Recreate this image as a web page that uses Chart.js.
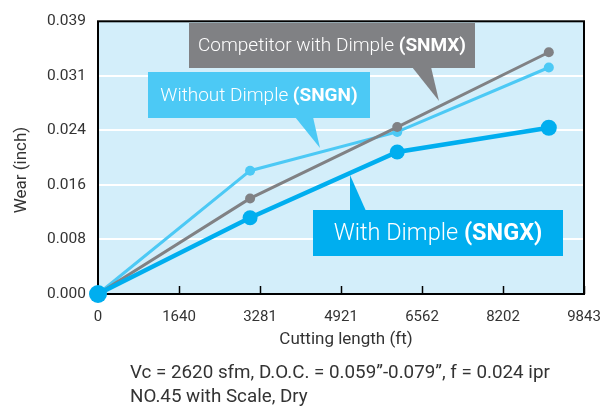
<!DOCTYPE html>
<html>
<head>
<meta charset="utf-8">
<script src="https://cdn.jsdelivr.net/npm/chart.js@4"></script>
<style>
  html, body { margin: 0; padding: 0; background: #ffffff; }
  #wrap { width: 612px; height: 409px; position: relative; }
</style>
</head>
<body>
<div id="wrap"><canvas id="c" width="612" height="409"></canvas></div>
<script>
// ---- data ----
const cuttingLengthFt = [0, 3080, 6060, 9130];
const wearSNGX = [0, 0.0110, 0.0205, 0.0240];
const wearSNMX = [0, 0.0138, 0.0241, 0.0349];
const wearSNGN = [0, 0.0178, 0.0234, 0.0327];
const xTickValues = [0, 1640.42, 3280.84, 4921.26, 6561.68, 8202.10, 9842.52];
const xTickLabels = ['0', '1640', '3281', '4921', '6562', '8202', '9843'];
const yTickValues = [0, 0.007874, 0.015748, 0.023622, 0.031496, 0.03937];
const yTickLabels = ['0.000', '0.008', '0.016', '0.024', '0.031', '0.039'];
const seriesNames = ['With Dimple (SNGX)', 'Competitor with Dimple (SNMX)', 'Without Dimple (SNGN)'];
const xTitle = 'Cutting length (ft)';
const yTitle = 'Wear (inch)';
const footLines = ['Vc = 2620 sfm, D.O.C. = 0.059\u201d-0.079\u201d, f = 0.024 ipr', 'NO.45 with Scale, Dry'];

const FONT = 'Roboto, "Liberation Sans", Arial, sans-serif';
const C_BLUE = '#00aeef', C_LIGHT = '#4cc9f5', C_GRAY = '#808184';

function pts(ys) { return cuttingLengthFt.map((x, i) => ({ x: x, y: ys[i] })); }

// callouts: box in pixels, pointer triangle, text parts
const callouts = [
  { color: C_GRAY, box: [189, 23, 286, 45], tri: [[412, 67], [431, 67], [439, 101]],
    parts: [['Competitor with Dimple ', 300], ['(SNMX)', 700]], size: 19 },
  { color: C_LIGHT, box: [148, 72, 222, 46], tri: [[295, 117], [313, 117], [320, 148]],
    parts: [['Without Dimple ', 300], ['(SNGN)', 700]], size: 19 },
  { color: C_BLUE, box: [313, 210, 250, 46], tri: [[350, 211], [366, 211], [350, 175]],
    parts: [['With Dimple ', 300], ['(SNGX)', 700]], size: 23.5 }
];

const decor = {
  id: 'decor',
  beforeDraw(chart) {
    const { ctx, chartArea: a } = chart;
    ctx.save();
    ctx.fillStyle = '#d3eefa';
    ctx.fillRect(a.left, a.top, a.right - a.left, a.bottom - a.top);
    ctx.restore();
  },
  beforeDatasetsDraw(chart) {
    const { ctx, chartArea: a } = chart;
    const xs = chart.scales.x;
    ctx.save();
    // tick marks inside bottom edge
    ctx.strokeStyle = '#000';
    ctx.lineWidth = 1.5;
    xTickValues.forEach(v => {
      const px = Math.round(xs.getPixelForValue(v)) + 0.5;
      ctx.beginPath();
      ctx.moveTo(px, a.bottom);
      ctx.lineTo(px, a.bottom - 8);
      ctx.stroke();
    });
    // frame
    ctx.lineWidth = 2;
    ctx.strokeRect(a.left, a.top, a.right - a.left, a.bottom - a.top);
    ctx.restore();
  },
  afterDatasetsDraw(chart) {
    const { ctx } = chart;
    ctx.save();
    callouts.forEach(c => {
      ctx.fillStyle = c.color;
      const [bx, by, bw, bh] = c.box;
      ctx.fillRect(bx, by, bw, bh);
      ctx.beginPath();
      ctx.moveTo(c.tri[0][0], c.tri[0][1]);
      ctx.lineTo(c.tri[1][0], c.tri[1][1]);
      ctx.lineTo(c.tri[2][0], c.tri[2][1]);
      ctx.closePath();
      ctx.fill();
      // text
      let total = 0;
      const widths = c.parts.map(p => {
        ctx.font = p[1] + ' ' + c.size + 'px ' + FONT;
        const w = ctx.measureText(p[0]).width;
        total += w;
        return w;
      });
      let x = bx + (bw - total) / 2;
      ctx.fillStyle = '#ffffff';
      ctx.textBaseline = 'middle';
      ctx.textAlign = 'left';
      c.parts.forEach((p, i) => {
        ctx.font = p[1] + ' ' + c.size + 'px ' + FONT;
        ctx.fillText(p[0], x, by + bh / 2 + 1);
        x += widths[i];
      });
    });
    ctx.restore();
  },
  afterDraw(chart) {
    const { ctx, chartArea: a } = chart;
    ctx.save();
    ctx.fillStyle = '#333333';
    ctx.textBaseline = 'middle';
    ctx.font = '400 17px ' + FONT;
    // y title
    ctx.save();
    ctx.translate(22, 170);
    ctx.rotate(-Math.PI / 2);
    ctx.textAlign = 'center';
    ctx.fillText(yTitle, 0, 0);
    ctx.restore();
    // x title
    ctx.textAlign = 'center';
    ctx.fillText(xTitle, 346, 340);
    // footer
    ctx.font = '400 18.8px ' + FONT;
    ctx.textAlign = 'left';
    ctx.fillText(footLines[0], 130, 373);
    ctx.fillText(footLines[1], 130, 397);
    ctx.restore();
  }
};

new Chart(document.getElementById('c'), {
  type: 'line',
  data: {
    datasets: [
      { label: seriesNames[0], data: pts(wearSNGX), borderColor: C_BLUE, backgroundColor: C_BLUE,
        borderWidth: 4.5, pointRadius: [9, 7.5, 7.5, 8], pointBorderWidth: 0, order: 1, clip: false },
      { label: seriesNames[1], data: pts(wearSNMX), borderColor: C_GRAY, backgroundColor: C_GRAY,
        borderWidth: 3, pointRadius: 5, pointBorderWidth: 0, order: 2, clip: false },
      { label: seriesNames[2], data: pts(wearSNGN), borderColor: C_LIGHT, backgroundColor: C_LIGHT,
        borderWidth: 3, pointRadius: 5, pointBorderWidth: 0, order: 3, clip: false }
    ]
  },
  options: {
    responsive: false,
    animation: false,
    devicePixelRatio: 1,
    layout: { padding: { top: 18, right: 28, left: 0, bottom: 0 } },
    plugins: { legend: { display: false }, tooltip: { enabled: false }, title: { display: false } },
    elements: { line: { tension: 0 } },
    scales: {
      x: {
        type: 'linear', min: 0, max: xTickValues[xTickValues.length - 1],
        afterBuildTicks: s => { s.ticks = xTickValues.map(v => ({ value: v })); },
        afterFit: s => { s.height = 115; },
        grid: { display: false },
        border: { display: false },
        ticks: {
          padding: 6, color: '#333333', font: { family: FONT, size: 15 },
          maxRotation: 0, autoSkip: false,
          callback: (v, i) => xTickLabels[i]
        }
      },
      y: {
        type: 'linear', min: 0, max: yTickValues[yTickValues.length - 1],
        afterBuildTicks: s => { s.ticks = yTickValues.map(v => ({ value: v })); },
        afterFit: s => { s.width = 98; },
        grid: { color: '#ffffff', lineWidth: 2, drawTicks: false },
        border: { display: false },
        ticks: {
          padding: 12, color: '#333333', font: { family: FONT, size: 15.5 },
          autoSkip: false,
          callback: (v, i) => yTickLabels[i]
        }
      }
    }
  },
  plugins: [decor]
});
</script>
</body>
</html>
